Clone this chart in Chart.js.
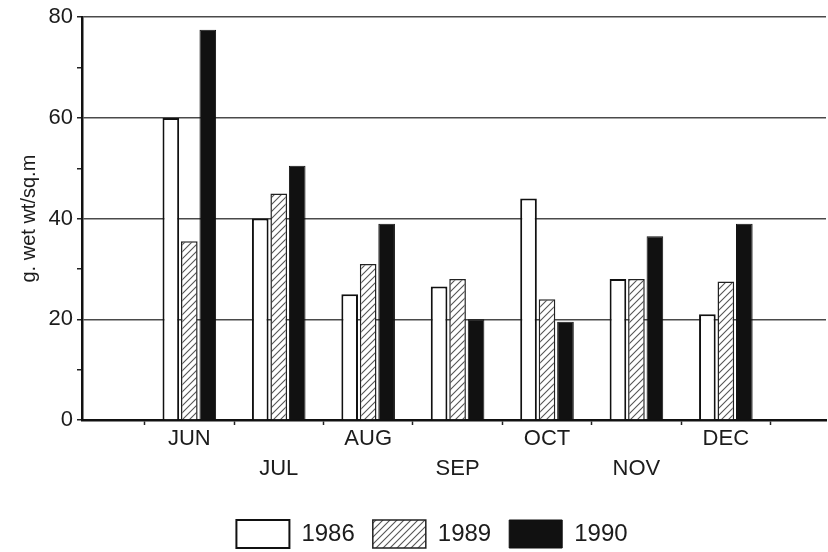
<!DOCTYPE html>
<html>
<head>
<meta charset="utf-8">
<script src="https://cdn.jsdelivr.net/npm/chart.js@4/dist/chart.umd.min.js"></script>
<style>
  html, body { margin: 0; padding: 0; background: #fff; }
  #wrap { width: 828px; height: 552px; }
</style>
</head>
<body>
<div id="wrap"><canvas id="biomassChart"></canvas></div>
<script>
const months = ['JUN', 'JUL', 'AUG', 'SEP', 'OCT', 'NOV', 'DEC'];
const years = ['1986', '1989', '1990'];
const values1986 = [60, 40, 25, 26.5, 44, 28, 21];
const values1989 = [35.5, 45, 31, 28, 24, 28, 27.5];
const values1990 = [77.5, 50.5, 39, 20, 19.5, 36.5, 39];
const yMin = 0;
const yMax = 80;
const yLabelStep = 20;

function hatchPattern() {
    const c = document.createElement('canvas');
    c.width = 7;
    c.height = 7;
    const g = c.getContext('2d');
    g.fillStyle = '#fff';
    g.fillRect(0, 0, 7, 7);
    g.strokeStyle = '#555';
    g.lineWidth = 1.1;
    g.beginPath();
    g.moveTo(-1, 8); g.lineTo(8, -1);
    g.moveTo(-1, 1); g.lineTo(1, -1);
    g.moveTo(6, 8); g.lineTo(8, 6);
    g.stroke();
    return g.createPattern(c, 'repeat');
}

function toPoints(values) {
    return values.map((v, i) => ({ x: i, y: v }));
}

// the printed legend sits a little right of centre
const legendShift = {
    id: 'legendShift',
    afterLayout(chart) {
        chart.legend.left += 19;
        chart.legend.right += 19;
    }
};

Chart.defaults.font.family = '"Liberation Sans", Arial, sans-serif';
Chart.defaults.color = '#1c1c1c';

function renderChart() {
    const ctx = document.getElementById('biomassChart').getContext('2d');
    new Chart(ctx, {
        type: 'bar',
        data: {
            datasets: [{
                label: years[0],
                data: toPoints(values1986),
                backgroundColor: '#fff',
                borderColor: '#111',
                borderWidth: 2
            }, {
                label: years[1],
                data: toPoints(values1989),
                backgroundColor: hatchPattern(),
                borderColor: '#222',
                borderWidth: 1.5
            }, {
                label: years[2],
                data: toPoints(values1990),
                backgroundColor: '#111',
                borderColor: '#111',
                borderWidth: 1
            }]
        },
        options: {
            responsive: true,
            maintainAspectRatio: false,
            animation: false,
            layout: { padding: { top: 16, right: 2, bottom: -6, left: 0 } },
            datasets: { bar: { categoryPercentage: 0.62, barPercentage: 0.9 } },
            plugins: {
                tooltip: { enabled: false },
                legend: {
                    position: 'bottom',
                    labels: {
                        boxWidth: 53,
                        boxHeight: 28,
                        padding: 18,
                        font: { size: 24 },
                        color: '#1c1c1c'
                    }
                }
            },
            scales: {
                x: {
                    type: 'linear',
                    offset: false,
                    min: -1.2,
                    max: 7.12,
                    afterBuildTicks: scale => {
                        scale.ticks = months.map((m, i) => ({ value: i }));
                    },
                    afterFit: scale => { scale.height = 82; },
                    ticks: {
                        autoSkip: false,
                        maxRotation: 0,
                        padding: -1,
                        font: { size: 22, lineHeight: 1.36 },
                        callback: value => value % 2 === 1 ? ['', months[value]] : months[value]
                    },
                    grid: {
                        offset: true,
                        drawOnChartArea: false,
                        drawTicks: true,
                        tickLength: 5,
                        tickColor: '#222',
                        tickWidth: 1.5
                    },
                    border: { color: '#111', width: 2.5 }
                },
                y: {
                    min: yMin,
                    max: yMax,
                    afterFit: scale => { scale.width = 82; },
                    ticks: {
                        stepSize: 10,
                        padding: 4,
                        font: { size: 22 },
                        callback: value => value % yLabelStep === 0 ? value : ''
                    },
                    grid: {
                        color: c => (c.tick && c.tick.value > 0 && c.tick.value % yLabelStep === 0) ? '#4a4a4a' : 'rgba(0,0,0,0)',
                        lineWidth: 1.5,
                        tickLength: 5,
                        tickColor: '#222',
                        tickWidth: 1.5
                    },
                    border: { color: '#111', width: 2.5 },
                    title: {
                        display: true,
                        text: 'g. wet wt/sq.m',
                        font: { size: 20 },
                        padding: { top: 17, bottom: 0 },
                        color: '#1c1c1c'
                    }
                }
            }
        },
        plugins: [legendShift]
    });
}

document.addEventListener('DOMContentLoaded', renderChart);
</script>
</body>
</html>
